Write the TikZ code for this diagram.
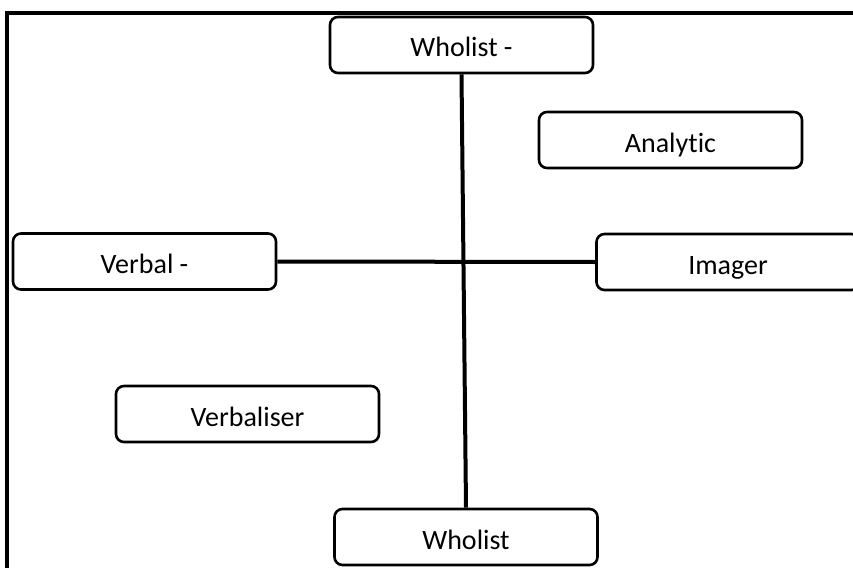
\documentclass[tikz,border=0pt]{standalone}
\usepackage{fontspec}
\setmainfont{Carlito}[Ligatures=NoCommon]
\begin{document}
\begin{tikzpicture}[x=1pt,y=-1pt,
  box/.style={draw=black,line width=2.6pt,rounded corners=8pt,fill=white,
    minimum width=263pt,minimum height=56pt,inner sep=0pt,
    text height=24pt,text depth=0pt,
    font=\fontsize{28}{32}\selectfont},
  link/.style={line width=4pt}]
\useasboundingbox (0,0) rectangle (853,567);
\clip (0,0) rectangle (853,567);
\fill[white] (0,0) rectangle (853,567);
\draw[line width=4pt] (7,600) -- (7,13) -- (900,13);
\node[box] (wtop) at (461.5,45) {Wholist -};
\node[box] (wbot) at (466,537) {Wholist};
\node[box] (verbal) at (144.5,261.5) {Verbal -};
\node[box] (imager) at (728,262) {Imager};
\node[box] (verbaliser) at (247.5,414) {Verbaliser};
\node[box] (analytic) at (670.5,140) {Analytic};
\draw[link] (wtop.south) -- (wbot.north);
\draw[link] (verbal.east) -- (imager.west);
\end{tikzpicture}
\end{document}
